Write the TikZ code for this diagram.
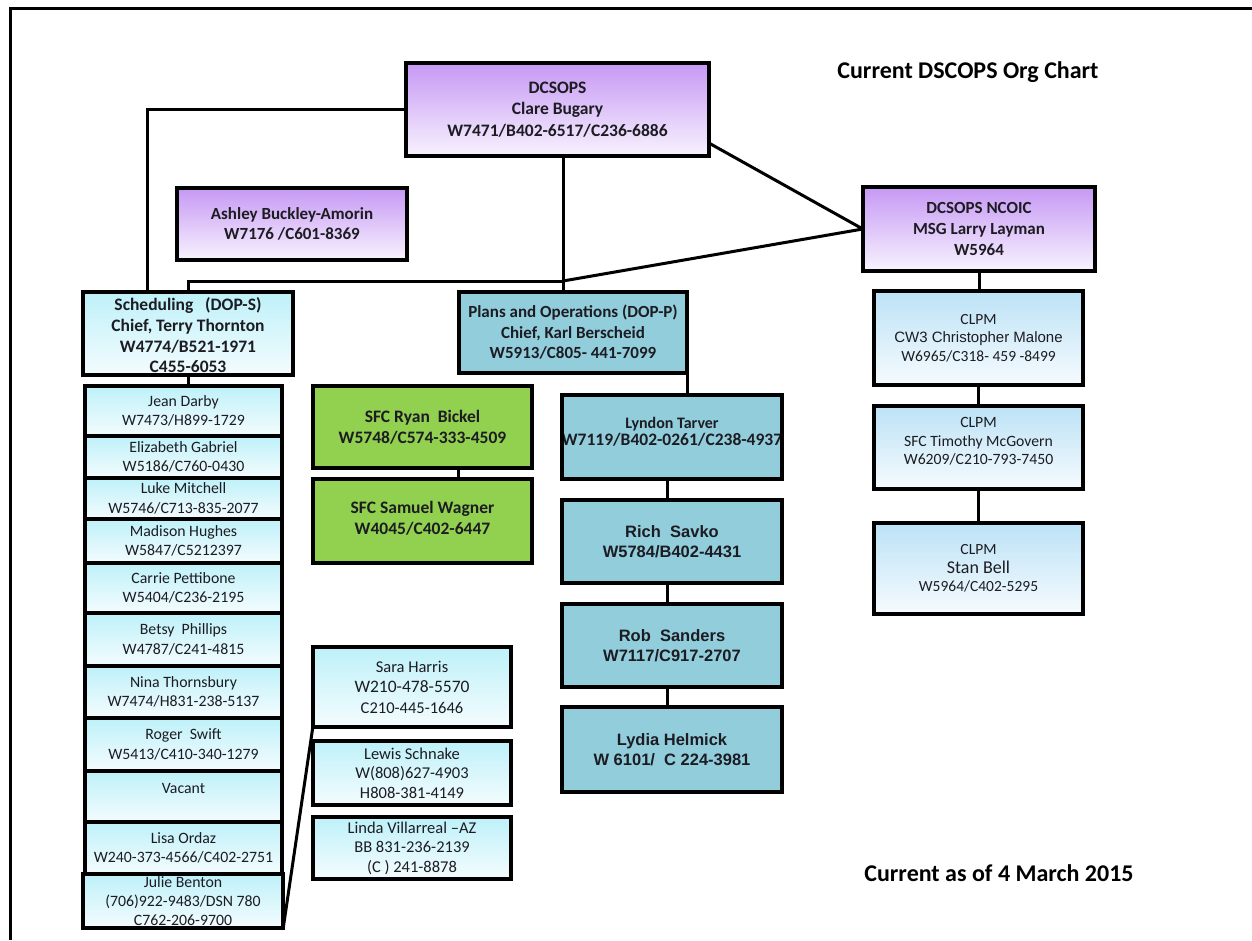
\documentclass[tikz,border=0pt]{standalone}
\usepackage{fontspec}
\setmainfont{Carlito}
\newfontfamily\arialf{Liberation Sans}
\usetikzlibrary{calc}

\definecolor{ink}{RGB}{28,28,34}
\definecolor{lavtop}{RGB}{198,152,244}
\definecolor{lavbot}{RGB}{248,243,254}
\definecolor{cyantop}{RGB}{190,241,249}
\definecolor{cyanbot}{RGB}{244,252,254}
\definecolor{skytop}{RGB}{188,226,246}
\definecolor{skybot}{RGB}{246,251,254}
\definecolor{plansblue}{RGB}{146,205,220}
\definecolor{staffgreen}{RGB}{146,208,80}

% box: filled area only; text sits in its own node; borders are drawn last
\newcommand{\orgnode}[8][]{%
  \node[#2, rectangle, inner sep=0pt, minimum width={(#5-#3)*1pt}, minimum height={(#6-#4)*1pt}]
    (#7) at ({(#3+#5)/2},{(#4+#6)/2}) {};
  \node[txt, #1] (#7-t) at (#7.center) {#8};}
\newcommand{\fs}[2]{\fontsize{#1}{#2}\selectfont}

\begin{document}
\begin{tikzpicture}[x=1pt,y=-1pt,
  txt/.style={inner sep=0pt, align=center, text=ink},
  lav/.style={top color=lavtop, bottom color=lavbot},
  cyanbox/.style={top color=cyantop, bottom color=cyanbot},
  skybox/.style={top color=skytop, bottom color=skybot},
  bluebox/.style={fill=plansblue},
  greenbox/.style={fill=staffgreen},
  boxline/.style={draw=black, line width=3.6pt},
  conn/.style={draw=black, line width=3pt},
  bigb/.style={font=\fs{17.5}{21.5}\bfseries},
  midb/.style={font=\fs{17}{21}\bfseries},
  listf/.style={font=\fs{15.8}{19.5}},
  arialb/.style={font=\arialf\fs{16.5}{20}\bfseries},
  titlef/.style={font=\fs{24}{28}\bfseries, text=black, inner sep=0pt}
]
\useasboundingbox (0,0) rectangle (1252,940);
\fill[white] (0,0) rectangle (1252,940);

% page frame
\draw[line width=3pt] (10,940) -- (10,8.5) -- (1252,8.5);

% headings
\node[titlef] (title) at (968,72) {Current DSCOPS Org Chart};
\node[titlef] (asof) at (999,873) {Current as of 4 March 2015};

% command group
\orgnode[bigb]{lav}{406}{63}{709}{156}{dcsops}{DCSOPS\\Clare Bugary\\W7471/B402-6517/C236-6886}
\orgnode[bigb, font=\fs{17}{20}\bfseries]{lav}{177}{188}{407}{260}{ashley}{Ashley Buckley-Amorin\\W7176 /C601-8369}
\orgnode[midb]{lav}{863}{187}{1095}{271}{ncoic}{DCSOPS NCOIC\\MSG Larry Layman\\W5964}

% CLPM column
\orgnode[font=\fs{15.5}{18.5}]{skybox}{874}{291}{1083}{385}{clpm1}{CLPM\\{\arialf\fs{15}{18.5}CW3 Christopher Malone}\\W6965/C318- 459 -8499}
\orgnode[font=\fs{15.7}{18.5}, yshift=6pt]{skybox}{874}{406}{1083}{489}{clpm2}{CLPM\\SFC Timothy McGovern\\W6209/C210-793-7450}
\orgnode[font=\fs{15.5}{18.5}]{skybox}{874}{523}{1083}{614}{clpm3}{CLPM\\{\fs{18}{18.5}Stan Bell}\\W5964/C402-5295}

% scheduling branch
\orgnode[font=\fs{17.5}{20.7}\bfseries, yshift=-2pt]{cyanbox}{83}{292}{293}{375}{sched}{Scheduling~~ (DOP-S)\\Chief, Terry Thornton\\W4774/B521-1971\\C455-6053}
\orgnode[listf]{cyanbox}{85}{386}{282}{436}{jean}{Jean Darby\\W7473/H899-1729}
\orgnode[listf]{cyanbox}{85}{436}{282}{478}{eliz}{Elizabeth Gabriel\\W5186/C760-0430}
\orgnode[listf]{cyanbox}{85}{478}{282}{519}{luke}{Luke Mitchell\\W5746/C713-835-2077}
\orgnode[listf]{cyanbox}{85}{519}{282}{563}{madison}{Madison Hughes\\W5847/C5212397}
\orgnode[listf]{cyanbox}{85}{563}{282}{613}{carrie}{Carrie Pettibone\\W5404/C236-2195}
\orgnode[listf]{cyanbox}{85}{613}{282}{666}{betsy}{Betsy~ Phillips\\W4787/C241-4815}
\orgnode[listf]{cyanbox}{85}{666}{282}{718}{nina}{Nina Thornsbury\\W7474/H831-238-5137}
\orgnode[listf]{cyanbox}{85}{718}{282}{771}{roger}{Roger~ Swift\\W5413/C410-340-1279}
\orgnode[listf, yshift=8pt]{cyanbox}{85}{771}{282}{822}{vacant}{Vacant}
\orgnode[listf]{cyanbox}{85}{822}{282}{874}{lisa}{Lisa Ordaz\\W240-373-4566/C402-2751}
\orgnode[listf, font=\fs{15.8}{19}]{cyanbox}{83}{874}{283}{928}{julie}{Julie Benton\\(706)922-9483/DSN 780\\C762-206-9700}
\orgnode[font=\fs{16.5}{20.5}]{cyanbox}{313}{647}{511}{727}{sara}{Sara Harris\\{\fs{17.5}{20.5}W210-478-5570}\\C210-445-1646}
\orgnode[font=\fs{16.5}{19.5}]{cyanbox}{313}{741}{511}{805}{lewis}{Lewis Schnake\\W(808)627-4903\\H808-381-4149}
\orgnode[font=\fs{16.5}{19.5}]{cyanbox}{313}{817}{511}{879}{linda}{Linda Villarreal –AZ\\BB 831-236-2139\\(C ) 241-8878}

% plans and operations branch
\orgnode[midb, font=\fs{17}{20.5}\bfseries]{bluebox}{459}{292}{687}{373}{plans}{Plans and Operations (DOP-P)\\Chief, Karl Berscheid\\W5913/C805- 441-7099}
\orgnode[bigb]{greenbox}{313}{386}{532}{468}{ryan}{SFC Ryan~ Bickel\\W5748/C574-333-4509}
\orgnode[bigb, yshift=3pt]{greenbox}{313}{479}{532}{563}{samuel}{SFC Samuel Wagner\\W4045/C402-6447}
\orgnode[font=\fs{16}{17}\bfseries, yshift=5pt]{bluebox}{562}{395}{782}{479}{lyndon}{Lyndon Tarver\\\makebox[0pt]{\fs{17.5}{17}W7119/B402-0261/C238-4937}}
\orgnode[arialb]{bluebox}{562}{500}{782}{583}{rich}{Rich~ Savko\\W5784/B402-4431}
\orgnode[arialb]{bluebox}{562}{604}{782}{687}{rob}{Rob~ Sanders\\W7117/C917-2707}
\orgnode[arialb]{bluebox}{562}{707}{782}{792}{lydia}{Lydia Helmick\\W 6101/~ C 224-3981}

% connector junctions
\coordinate (trunktop) at (563,156);
\coordinate (junction) at (563,281);
\coordinate (schedtap) at (147,292);

% connectors
\draw[conn] (dcsops.west) -| (schedtap);
\draw[conn] (trunktop) -- (trunktop |- plans.north);
\draw[conn] ($(ashley.east)+(0,6)$) -- ($(ashley.east)+(0,6)$ -| trunktop);
\draw[conn] (junction) -| (sched.north);
\draw[conn] (junction) -- (ncoic.west);
\draw[conn] ($(dcsops.south east)+(0,-13)$) -- (ncoic.west);
\draw[conn] (ncoic.south) -- (ncoic.south |- clpm1.north);
\draw[conn] (clpm1.south) -- (clpm1.south |- clpm2.north);
\draw[conn] (clpm2.south) -- (clpm2.south |- clpm3.north);
\draw[conn] (sched.south) -- (sched.south |- jean.north);
\draw[conn] ($(plans.south west)+(1,0)$) -- ($(plans.south west)+(1,0)$ |- ryan.north);
\draw[conn] (ryan.south -| plans.south west) -- (samuel.north -| plans.south west);
\draw[conn] (plans.south east) -- (plans.south east |- lyndon.north);
\draw[conn] ($(lyndon.south)+(-5,0)$) -- ($(rich.north)+(-5,0)$);
\draw[conn] ($(rich.south)+(-5,0)$) -- ($(rob.north)+(-5,0)$);
\draw[conn] ($(rob.south)+(-5,0)$) -- ($(lydia.north)+(-5,0)$);
\draw[conn] (julie.south east) -- (sara.south west);

% box outlines, drawn over fills and text
\foreach \n in {dcsops,ashley,ncoic,clpm1,clpm2,clpm3,sched,jean,eliz,luke,madison,
  carrie,betsy,nina,roger,vacant,lisa,julie,sara,lewis,linda,plans,ryan,samuel,
  lyndon,rich,rob,lydia}
  \draw[boxline] (\n.north west) rectangle (\n.south east);
\end{tikzpicture}
\end{document}
